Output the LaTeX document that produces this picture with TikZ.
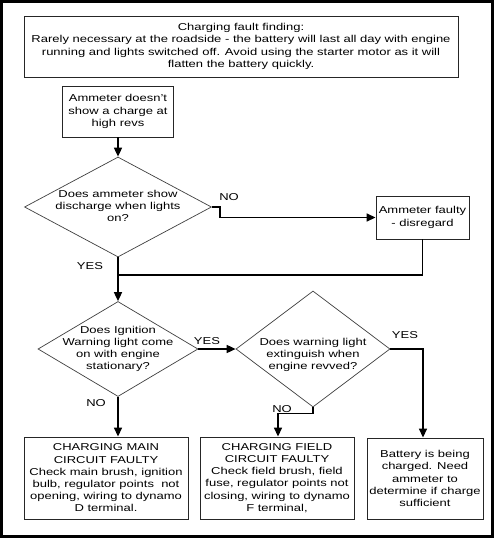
\documentclass[tikz,border=0pt]{standalone}
\usepackage{fontspec}
\setmainfont{Liberation Sans}[FakeStretch=1.3]
\usetikzlibrary{shapes.geometric,arrows.meta}
\begin{document}
\begin{tikzpicture}[x=1pt,y=-1pt,
 box/.style={draw=black!85,line width=0.9pt,inner sep=0,align=center,font=\fontsize{10}{12.2}\selectfont},
 dia/.style={draw=black!75,line width=0.7pt,shape=diamond,inner sep=0},
 txt/.style={align=center,inner sep=0,font=\fontsize{10}{12.2}\selectfont},
 lbl/.style={inner sep=0,font=\fontsize{10}{12}\selectfont},
 conn/.style={line width=1.6pt,-{Triangle[length=9pt,width=8pt]}},
 plain/.style={line width=1.3pt}]
\useasboundingbox (0,0) rectangle (494,538);
\fill[white] (0,0) rectangle (494,538);
\draw[line width=3pt] (1.5,1.5) rectangle (492.5,536.5);

\node[box,minimum width=434pt,minimum height=61pt] (top) at (241,46.5)
 {Charging fault finding:\\
  Rarely necessary at the roadside - the battery will last all day with engine\\
  running and lights switched off. Avoid using the starter motor as it will\\
  flatten the battery quickly.};

\node[box,minimum width=111pt,minimum height=51pt] (a) at (118,111.5)
 {Ammeter doesn't\\ show a charge at\\ high revs};

\node[dia,minimum width=187pt,minimum height=100pt] (d1) at (118,207) {};
\node[txt] (d1t) at (118,206) {Does ammeter show\\ discharge when lights\\ on?};

\node[box,minimum width=93pt,minimum height=43pt] (f) at (422.5,217.5)
 {Ammeter faulty\\ - disregard};

\node[dia,minimum width=160pt,minimum height=95pt] (d2) at (118,349) {};
\node[txt] (d2t) at (118,349) {Does Ignition\\ Warning light come\\ on with engine\\ stationary?};

\node[dia,minimum width=154pt,minimum height=116pt] (d3) at (313,349) {};
\node[txt] (d3t) at (313,355) {Does warning light\\ extinguish when\\ engine revved?};

\node[box,minimum width=164pt,minimum height=82pt] (b1) at (106,478)
 {CHARGING MAIN\\ CIRCUIT FAULTY\\ Check main brush, ignition\\ bulb, regulator points\ \ not\\ opening, wiring to dynamo\\ D terminal.};
\node[box,minimum width=154pt,minimum height=82pt] (b2) at (277,478)
 {CHARGING FIELD\\ CIRCUIT FAULTY\\ Check field brush, field\\ fuse, regulator points not\\ closing, wiring to dynamo\\ F terminal,};
\node[box,minimum width=116pt,minimum height=81pt] (b3) at (425,478.5)
 {Battery is being\\ charged. Need\\ ammeter to\\ determine if charge\\ sufficient};

\coordinate (j) at (118,275);

\draw[conn] (a.south) -- (d1.north);
\draw[conn] (d1.east) -- ++(8,0) |- (f.west);
\node[lbl] (no1) at (229,197) {NO};
\draw[plain] (f.south) |- (j);
\draw[conn] (d1.south) -- (d2.north);
\node[lbl] (yes1) at (90,266) {YES};
\draw[conn] (d2.east) -- (d3.west);
\node[lbl] (yes2) at (207,341) {YES};
\draw[conn] (d2.south) -- (d2.south |- b1.north);
\node[lbl] (no2) at (96,403) {NO};
\draw[conn] (d3.south) -- ++(0,6) -| ([xshift=1pt]b2.north);
\node[lbl] (no3) at (282,409) {NO};
\draw[conn] (d3.east) -| ([xshift=-2pt]b3.north);
\node[lbl] (yes3) at (405,335) {YES};
\end{tikzpicture}
\end{document}
